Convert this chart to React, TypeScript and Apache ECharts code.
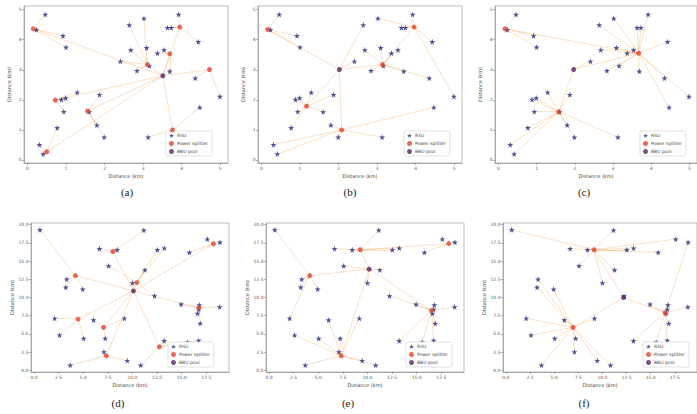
import { useEffect, useRef } from "react";
import * as echarts from "echarts";

// ---------- tick labels ----------
const topTicks = [0, 1, 2, 3, 4, 5];
const bottomXTicks = [0, 2.5, 5, 7.5, 10, 12.5, 15, 17.5];
const bottomYTicks = [0, 2.5, 5, 7.5, 10, 12.5, 15, 17.5, 20];
const legendNames = ["RSU", "Power splitter", "BBU pool"];
const captions = ["(a)", "(b)", "(c)", "(d)", "(e)", "(f)"];

// ---------- RSU positions (km) ----------
const topRSU: number[][] = [
  [0.46, 4.84], [0.23, 4.33], [0.92, 4.13], [1.0, 3.75], [2.64, 4.49], [3.02, 4.71],
  [3.92, 4.84], [3.63, 4.4], [3.73, 4.4], [4.43, 3.93], [2.68, 3.66], [3.09, 3.73],
  [3.37, 3.55], [3.54, 3.66], [2.41, 3.28], [3.16, 3.13], [2.84, 2.97], [3.69, 2.95],
  [4.35, 2.72], [4.99, 2.11], [4.47, 1.75], [1.29, 2.25], [1.87, 2.17], [0.88, 2.01],
  [0.99, 2.06], [0.94, 1.61], [1.6, 1.6], [1.8, 1.16], [0.77, 1.07], [1.99, 0.76],
  [3.13, 0.76], [0.31, 0.51], [0.41, 0.2],
];
const bottomRSU: number[][] = [
  [0.6, 19.3], [11.15, 19.25], [6.65, 16.7], [8.45, 16.55], [12.53, 16.55], [13.23, 16.78],
  [15.78, 16.18], [17.6, 18.02], [18.88, 17.58], [7.58, 14.34], [11.26, 13.79], [3.33, 12.51],
  [3.23, 11.4], [4.95, 11.13], [10.0, 12.0], [12.24, 10.21], [14.94, 9.06], [16.79, 8.97],
  [18.85, 8.69], [16.73, 8.37], [16.6, 7.8], [2.1, 7.13], [6.05, 6.9], [9.18, 7.13],
  [16.88, 6.44], [2.6, 4.83], [5.05, 4.37], [7.23, 4.37], [13.22, 4.05], [15.57, 3.86],
  [16.72, 4.09], [7.1, 2.53], [9.47, 1.33], [3.68, 0.69], [10.84, 0.69],
];

// ---------- (a) ----------
const aSplitters = [[0.15, 4.36], [3.95, 4.42], [3.69, 3.53], [3.11, 3.17], [4.72, 3.01], [0.72, 1.99], [1.56, 1.63], [3.76, 1.0], [0.5, 0.27]];
const aBBU = [3.51, 2.8];
const aAssign = [0, 0, 0, 0, 3, 3, 1, 1, 1, 1, 3, 3, 2, 2, 3, 3, 3, 2, 4, 4, 7, 5, 6, 5, 5, 5, 6, 6, 8, 6, 7, 8, 8];
const aBackbone = [[-1, 0], [-1, 1], [-1, 2], [-1, 3], [-1, 4], [-1, 5], [-1, 6], [-1, 7], [-1, 8]];

// ---------- (b) ----------
const bSplitters = [[0.16, 4.34], [3.14, 3.17], [3.96, 4.42], [1.17, 1.79], [2.08, 1.0]];
const bBBU = [2.02, 3.01];
const bAssign = [0, 0, 0, 0, -1, 2, 2, 2, 2, 2, 1, 1, 1, 1, -1, 1, 1, 1, 1, 2, 4, 3, 3, 3, 3, 3, 3, 4, 3, 4, 4, 4, 4];
const bBackbone = [[-1, 0], [-1, 1], [-1, 3], [-1, 4], [1, 2]];

// ---------- (c) ----------
const cSplitters = [[0.17, 4.36], [3.67, 3.55], [1.58, 1.6]];
const cBBU = [1.97, 3.01];
const cAssign = [0, 0, 0, 0, 1, 1, 1, 1, 1, 1, 1, 1, 1, 1, -1, 1, 1, 1, 1, 1, 1, 2, 2, 2, 2, 2, 2, 2, 2, 2, 2, 2, 2];
const cBackbone = [[0, 1], [-1, 1], [-1, 2]];

// ---------- (d) ----------
const dSplitters = [[8.01, 16.32], [18.22, 17.38], [4.21, 13.01], [10.44, 12.05], [4.48, 7.03], [7.07, 5.89], [12.73, 3.22], [7.34, 1.98], [16.75, 8.6]];
const dBBU = [10.1, 10.9];
const dAssign = [2, 0, 0, 0, 3, 3, 1, 1, 1, 3, 3, 2, 2, 2, 3, 3, 8, 8, 8, 8, 8, 4, 5, 5, 8, 4, 4, 5, 6, 6, 6, 7, 7, 7, 6];
const dBackbone = [[-1, 0], [-1, 1], [-1, 2], [-1, 3], [-1, 4], [-1, 5], [-1, 6], [-1, 7], [-1, 8]];

// ---------- (e) ----------
const eSplitters = [[9.26, 16.55], [18.25, 17.4], [4.14, 13.01], [16.5, 8.2], [7.34, 1.98]];
const eBBU = [10.17, 13.89];
const eAssign = [2, 0, 0, 0, 0, 0, 1, 1, 1, -1, -1, 2, 2, 2, -1, 3, 3, 3, 3, 3, 3, 2, 4, 4, 3, 4, 4, 4, 3, 3, 3, 4, 4, 4, 4];
const eBackbone = [[-1, 0], [-1, 2], [-1, 3], [-1, 4], [0, 1]];

// ---------- (f) ----------
const fSplitters = [[9.13, 16.55], [6.96, 5.89], [16.5, 7.9]];
const fBBU = [12.2, 10.0];
const fAssign = [0, 0, 0, 0, 0, 0, 0, 0, 2, 0, 0, 1, 1, 1, 0, -1, 2, 2, 2, 2, 2, 1, 1, 1, 2, 1, 1, 1, 2, 2, 2, 1, 1, 1, 1];
const fBackbone = [[-1, 0], [-1, 1], [-1, 2]];

const STAR = "path://M50,0 L61,35 L98,35 L68,57 L79,91 L50,70 L21,91 L32,57 L2,35 L39,35 Z";

export default function App() {
  const ref = useRef<HTMLDivElement>(null);
  useEffect(() => {
    if (!ref.current) return;
    const chart = echarts.init(ref.current, null, { renderer: "svg" });

    const panels = [
      { rsu: topRSU, sp: aSplitters, bbu: aBBU, as: aAssign, bb: aBackbone, top: true },
      { rsu: topRSU, sp: bSplitters, bbu: bBBU, as: bAssign, bb: bBackbone, top: true },
      { rsu: topRSU, sp: cSplitters, bbu: cBBU, as: cAssign, bb: cBackbone, top: true },
      { rsu: bottomRSU, sp: dSplitters, bbu: dBBU, as: dAssign, bb: dBackbone, top: false },
      { rsu: bottomRSU, sp: eSplitters, bbu: eBBU, as: eAssign, bb: eBackbone, top: false },
      { rsu: bottomRSU, sp: fSplitters, bbu: fBBU, as: fAssign, bb: fBackbone, top: false },
    ];
    const gridBoxes = [
      { left: 24, top: 6, width: 204, height: 157 },
      { left: 258, top: 6, width: 204, height: 157 },
      { left: 495, top: 6, width: 204, height: 157 },
      { left: 31, top: 223, width: 198, height: 149 },
      { left: 266, top: 223, width: 198, height: 149 },
      { left: 503, top: 223, width: 198, height: 149 },
    ];
    const legendPos = [
      { left: 166, top: 131 }, { left: 404, top: 131 }, { left: 640, top: 131 },
      { left: 168, top: 342 }, { left: 406, top: 342 }, { left: 643, top: 342 },
    ];
    const captionPos = [[127, 192], [350, 192], [584, 192], [118, 403], [348, 403], [584, 403]];

    const axisCommon = (i: number, isX: boolean, top: boolean) => {
      const ticks = top ? topTicks : isX ? bottomXTicks : bottomYTicks;
      const range = top
        ? isX ? [-0.09, 5.2] : [-0.1, 5.12]
        : isX ? [-0.3, 19.8] : [-0.24, 20.23];
      return {
        type: "value",
        gridIndex: i,
        min: range[0],
        max: range[1],
        name: "Distance (km)",
        nameLocation: "middle",
        nameGap: isX ? 10 : top ? 13 : 17,
        nameTextStyle: { fontSize: 5, color: "#444", fontFamily: "DejaVu Sans" },
        axisLine: { show: true, onZero: false, lineStyle: { color: "#999", width: 0.8 } },
        axisTick: { show: true, length: 2, customValues: ticks, lineStyle: { color: "#777", width: 0.6 } },
        axisLabel: {
          customValues: ticks,
          fontSize: 4.5,
          margin: 2.5,
          color: "#555",
          fontFamily: "DejaVu Sans",
          formatter: (v: number) => (top ? String(Math.round(v)) : v.toFixed(1)),
        },
        splitLine: { show: false },
      };
    };

    const series: any[] = [];
    panels.forEach((p, i) => {
      const node = (k: number) => (k < 0 ? p.bbu : p.sp[k]);
      const lineData: any[] = [];
      p.bb.forEach(([s, t]) => lineData.push({ coords: [node(s), node(t)] }));
      p.rsu.forEach((r, k) => lineData.push({ coords: [r, node(p.as[k])] }));
      series.push({
        type: "lines",
        coordinateSystem: "cartesian2d",
        xAxisIndex: i,
        yAxisIndex: i,
        data: lineData,
        lineStyle: { color: "#f7a65a", width: 0.8, opacity: 0.45 },
        silent: true,
        z: 1,
      });
      series.push({
        type: "scatter",
        name: "RSU",
        xAxisIndex: i,
        yAxisIndex: i,
        data: p.rsu,
        symbol: STAR,
        symbolSize: 6,
        itemStyle: { color: "#25257f" },
        z: 3,
      });
      series.push({
        type: "scatter",
        name: "Power splitter",
        xAxisIndex: i,
        yAxisIndex: i,
        data: p.sp,
        symbol: "circle",
        symbolSize: 5,
        itemStyle: { color: "#e2452f" },
        z: 4,
      });
      series.push({
        type: "scatter",
        name: "BBU pool",
        xAxisIndex: i,
        yAxisIndex: i,
        data: [p.bbu],
        symbol: "circle",
        symbolSize: 5,
        itemStyle: { color: "#5a2464" },
        z: 5,
      });
    });

    chart.setOption({
      animation: false,
      backgroundColor: "#ffffff",
      grid: gridBoxes.map((g) => ({
        ...g,
        show: true,
        borderColor: "#aaa",
        borderWidth: 0.8,
        backgroundColor: "transparent",
        containLabel: false,
      })),
      xAxis: panels.map((p, i) => axisCommon(i, true, p.top)),
      yAxis: panels.map((p, i) => axisCommon(i, false, p.top)),
      legend: legendPos.map((lp) => ({
        ...lp,
        orient: "vertical",
        data: legendNames,
        selectedMode: false,
        itemWidth: 5,
        itemHeight: 5,
        itemGap: 3,
        padding: [2, 4, 2, 3],
        borderColor: "#ccc",
        borderWidth: 0.6,
        borderRadius: 1.5,
        backgroundColor: "#fff",
        textStyle: { fontSize: 4.5, color: "#444", fontFamily: "DejaVu Sans", padding: [0, 0, 0, -2] },
      })),
      graphic: captions.map((c, i) => ({
        type: "text",
        x: captionPos[i][0],
        y: captionPos[i][1],
        style: {
          text: c,
          fontSize: 11,
          fontFamily: "Liberation Serif",
          fill: "#222",
          textAlign: "center",
          textVerticalAlign: "middle",
        },
      })),
      series,
    });
    return () => chart.dispose();
  }, []);
  return (
    <div
      ref={ref}
      style={{ position: "fixed", left: 0, top: 0, width: 697, height: 414, background: "#fff" }}
    />
  );
}
